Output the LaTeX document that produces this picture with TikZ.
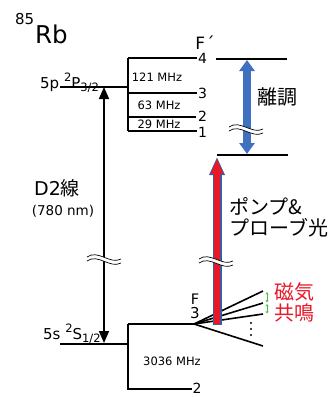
\documentclass[tikz,border=0pt]{standalone}
\usepackage{fontspec}
\setmainfont{DejaVu Sans}
\newfontfamily\jp{Noto Sans CJK JP}
\usetikzlibrary{arrows.meta}
\definecolor{detblue}{RGB}{64,112,192}
\definecolor{pumpred}{RGB}{232,24,40}
\definecolor{resgreen}{RGB}{80,185,70}

\begin{document}
\begin{tikzpicture}[x=1pt, y=-1pt, >=Latex,
lvl/.style={line width=1.6pt},
num/.style={font=\fontsize{14}{14}\selectfont, inner sep=1pt},
mhz/.style={font=\fontsize{11.5}{12}\selectfont, inner sep=0pt},
term/.style={anchor=base west, inner sep=0pt, font=\fontsize{15}{15}\selectfont},
jptxt/.style={font=\jp\fontsize{20}{21}\selectfont, align=left, inner sep=0pt},
d2arr/.style={line width=1.6pt, {Triangle[length=12pt,width=10pt]}-{Triangle[length=12pt,width=10pt]}},
detarr/.style={line width=8pt, detblue, {Triangle[length=11pt,width=15pt]}-{Triangle[length=11pt,width=15pt]}},
brk/.pic={
  \fill[white] (-17,-1) .. controls (-6,-9) and (6,7) .. (17,1) -- (17,5) .. controls (6,11) and (-6,-5) .. (-17,3) -- cycle;
  \draw[line width=0.7pt] (-17,-1) .. controls (-6,-9) and (6,7) .. (17,1);
  \draw[line width=0.7pt] (-17,3) .. controls (-6,-5) and (6,11) .. (17,5);}]
\useasboundingbox (0,0) rectangle (334,397);

% title
\node[anchor=base west, inner sep=0pt, font=\fontsize{15}{15}\selectfont] (mass) at (15,24) {85};
\node[anchor=base west, inner sep=0pt, font=\fontsize{24.5}{25}\selectfont] (rb) at (35,43) {Rb};

% 5p 2P3/2 manifold
\draw[lvl] (60,87) -- (128,87);
\draw[lvl] (128,58) -- (128,131);
\draw[lvl] (128,58) -- (197,58);
\draw[lvl] (128,93) -- (197,93);
\draw[lvl] (128,117) -- (196,117);
\draw[lvl] (128,131) -- (197,131);
\node[term] (plab) at (40,88) {5p {\fontsize{11.5}{12}\selectfont\raisebox{7pt}{2}}P{\fontsize{11.5}{12}\selectfont\raisebox{-3pt}{3/2}}};
\node[num, font=\fontsize{17}{17}\selectfont] (Fp) at (205,43) {F\kern1pt´};
\node[num, anchor=west] (n4) at (197,58) {4};
\node[num, anchor=west] (n3) at (197,93) {3};
\node[num, anchor=west] (n2) at (197,116) {2};
\node[num, anchor=west] (n1) at (197,132) {1};
\node[mhz] (m121) at (157,77) {121 MHz};
\node[mhz] (m63) at (159,105) {63 MHz};
\node[mhz] (m29) at (159,124) {29 MHz};

% 5s 2S1/2 manifold
\draw[lvl] (60,344) -- (128,344);
\draw[lvl] (128,324) -- (128,390);
\draw[lvl] (128,324) -- (194,324);
\draw[lvl] (128,389) -- (192,389);
\node[term] (slab) at (43,339) {5s {\fontsize{11.5}{12}\selectfont\raisebox{7pt}{2}}S{\fontsize{11.5}{12}\selectfont\raisebox{-3pt}{1/2}}};
\node[num, font=\fontsize{14.5}{15}\selectfont] (F) at (195,299) {F};
\node[num, font=\fontsize{15}{15}\selectfont] (n3g) at (195,313) {3};
\node[num, anchor=west, inner sep=0.5pt] (n2g) at (192,388.5) {2};
\node[mhz] (m3036) at (172,361) {3036 MHz};

% Zeeman fan
\coordinate (fan) at (194,324);
\coordinate (z1) at (263,291);
\coordinate (z2) at (263,303);
\coordinate (z3) at (263,314);
\coordinate (z4) at (263,346);
\draw[lvl] (fan) -- (z1);
\draw[lvl] (fan) -- (z2);
\draw[lvl] (fan) -- (z3);
\draw[lvl] (fan) -- (z4);
\fill (251,323) circle (1.1);
\fill (251,329) circle (1.1);
\fill (251,335) circle (1.1);
\coordinate (g1) at (267,292);
\coordinate (g2) at (267,302.5);
\coordinate (g3) at (267,304);
\coordinate (g4) at (267,313.5);
\draw[resgreen, line width=0.8pt, {Stealth[length=2.5pt,width=3pt]}-{Stealth[length=2.5pt,width=3pt]}] (g1) -- (g2);
\draw[resgreen, line width=0.8pt, {Stealth[length=2.5pt,width=3pt]}-{Stealth[length=2.5pt,width=3pt]}] (g3) -- (g4);
\node[jptxt, text=pumpred, align=center] (res) at (294,302.5) {磁気\\共鳴};

% D2 line
\coordinate (d2top) at (104,87);
\coordinate (d2bot) at (104,343);
\draw[d2arr] (d2top) -- (d2bot);
\pic at (104,258) {brk};
\node[inner sep=0pt, font=\fontsize{19}{19}\selectfont] (d2) at (57,188) {D2{\jp 線}};
\node[inner sep=0pt, font=\fontsize{13.5}{14}\selectfont] (wl) at (63,211) {(780 nm)};

% detuning
\draw[lvl] (216,59) -- (287,59);
\draw[lvl] (217,155) -- (288,155);
\coordinate (detT) at (247,60);
\coordinate (detB) at (247,154);
\draw[detarr] (detT) -- (detB);
\pic at (246,128) {brk};
\node[jptxt] (det) at (277,97) {離調};

% pump & probe
\coordinate (pumpB) at (217,325);
\coordinate (pumpT) at (217,157);
\draw[line width=9pt, detblue!85!black, -{Triangle[length=18pt,width=14.5pt]}] (pumpB) -- (pumpT);
\draw[line width=6.5pt, pumpred, shorten <=1pt, shorten >=1.5pt, -{Triangle[length=15.5pt,width=11.5pt]}] (pumpB) -- (pumpT);
\pic at (216,260) {brk};
\node[jptxt, anchor=west] (pump) at (229,217.5) {ポンプ\&\\プローブ光};
\end{tikzpicture}
\end{document}
